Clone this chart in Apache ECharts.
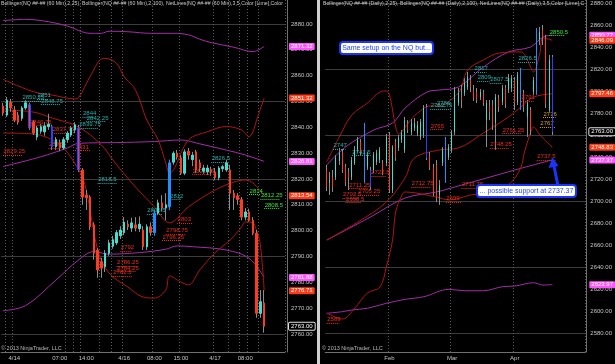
<!DOCTYPE html>
<html><head><meta charset="utf-8">
<script src="https://cdn.jsdelivr.net/npm/echarts@6/dist/echarts.min.js"></script>
<style>html,body{margin:0;padding:0;background:#000;}#c{width:615px;height:364px;}</style>
</head><body><div id="c"></div>
<script>
// ================= LEFT PANEL (60 Min) =================
const leftCatCount = 75;
const leftTickIdx  = [3, 15, 22, 32, 40, 47, 56, 64];
const leftTickText = ['4/14', '07:00', '14:00', '4/16', '08:00', '15:00', '4/17', '08:00'];
const leftVLines   = [1, 3, 17, 19, 21, 26, 29, 32, 40, 47, 56, 60, 63, 65, 68];
// [open, close, low, high]
const leftOHLC = [
 [2848.25,2845.5,2844.5,2849.5],[2844.75,2850.5,2844,2851.75],[2849.75,2847.5,2846,2851],[2846.75,2842.75,2842,2848.25],
 [2844.75,2842,2841,2846],[2843.5,2847.5,2842.5,2848.25],[2847.5,2849.5,2846.75,2850.5],[2848.75,2839.75,2839,2849.5],
 [2842,2837.75,2837,2842.75],[2836.25,2839.75,2835,2840.5],[2838.5,2840.25,2837.5,2841.25],[2838.25,2840.5,2836.75,2842],
 [2840.25,2841.25,2839,2845.25],[2840.25,2832.5,2831.25,2841],[2832.5,2835.25,2831.25,2836.25],[2834,2832,2830.75,2835.25],
 [2832,2835.25,2831.25,2836.25],[2835.25,2837.75,2834,2838.5],[2837,2839.75,2836.25,2840.5],[2839,2841,2837.75,2842],
 [2839.75,2823.5,2822.75,2841],[2823.5,2813,2810,2824.25],[2813.75,2812.75,2808,2815.75],[2813,2801.5,2800.25,2813.75],
 [2802.25,2791.25,2788.75,2803.25],[2792.5,2784.75,2781.75,2793.25],[2788,2785.5,2781.75,2789.5],[2786,2791.25,2784,2792.5],
 [2791.25,2795.25,2790.25,2796.5],[2794,2796.5,2793,2798],[2795.25,2799.25,2794.5,2800.25],[2798,2800.25,2796.75,2801.75],
 [2799.25,2803.25,2798.25,2805.25],[2802.5,2801.5,2800.25,2804],[2801,2803,2799.5,2805],[2802.25,2801,2799.75,2805.25],
 [2800.75,2802.5,2799.5,2805.5],[2800.25,2793.75,2792.5,2801.75],[2793.75,2801.5,2792.5,2802.5],[2801.5,2799.25,2798,2803.25],
 [2799.25,2806.75,2798,2808],[2806.75,2810.75,2806,2812],[2810.75,2808.75,2807.5,2813.75],[2808.75,2810,2804,2814.5],
 [2809.25,2826.25,2808,2827.5],[2826.5,2830,2825.5,2830.75],[2830,2828.5,2827.5,2831.25],[2828.25,2822.25,2821.5,2829.25],
 [2822.25,2830.5,2821.5,2831.5],[2830.75,2829.25,2827.5,2832],[2827.5,2829.25,2825,2830.5],[2830.5,2823.5,2822.25,2831.25],
 [2826.25,2824.25,2822.75,2827.5],[2823,2824.25,2822,2825.5],[2822.75,2824.25,2821.5,2825.5],[2823.5,2822.75,2821.25,2824.75],
 [2822.75,2820.5,2819.5,2824.25],[2820.5,2824.25,2819.5,2825],[2824,2824.75,2822.75,2825.5],[2823.5,2826.25,2822.75,2827.5],
 [2823.5,2814.5,2808,2825.5],[2814.5,2812.75,2808,2815.75],[2813.5,2812,2810,2814.5],[2812,2805.25,2804,2813],
 [2805.25,2807.25,2804,2808.75],[2807.25,2804,2803.5,2808.5],[2804,2799,2798.25,2805.25],[2799,2768,2766.25,2800.25],
 [2768,2772.5,2766.25,2777],[2772,2763,2760.5,2777]
];
const leftBlueUp   = [40, 44];
const leftBlueEdge = [7, 13, 20];
const leftBB25Upper = [[0,2858.6],[8,2853.8],[13,2852.5],[19,2851.0],[20,2851.5],[23,2859.6],[26,2866.5],[27,2866.7],[30,2864.8],[32,2859.6],[35,2854.5],[38,2842.8],[41,2835.1],[43,2826.2],[44,2822.3],[49,2835.1],[54,2838.3],[59,2840.3],[63,2839.0],[65,2836.4],[66,2838.2],[67,2842.8],[69,2851.3]];
const leftBB25Mid   = [[0,2846.7],[8,2845.9],[13,2843.6],[20,2840.1],[26,2833.2],[29,2827.4],[35,2816.9],[40,2809.2],[44,2803.0],[49,2809.2],[56,2815.7],[61,2818.8],[64,2819.6],[66,2818.5],[69,2813.5]];
const leftBB25Lower = [[0,2837.8],[8,2837.4],[15,2833.2],[20,2823.5],[22,2815.7],[25,2792.5],[28,2783.6],[33,2778.2],[37,2774.3],[40,2773.9],[43,2777.0],[44,2782.5],[47,2780.1],[49,2779.0],[52,2784.8],[56,2791.4],[60,2796.4],[63,2801.4],[64,2803.4],[66,2803.0],[67,2800.0],[68,2794.5],[69,2776.7]];
const leftBB100Upper = [[0,2881.3],[6,2881.8],[12,2880.9],[17,2879.2],[23,2876.4],[26,2876.4],[28,2877.2],[33,2877.0],[39,2876.4],[45,2876.4],[49,2875.8],[52,2874.1],[55,2872.8],[61,2871.0],[66,2869.3],[69,2871.3]];
const leftBB100Mid   = [[0,2824.8],[10,2828.6],[17,2832.0],[20,2833.8],[30,2834.1],[40,2834.5],[47,2835.1],[52,2833.6],[59,2831.2],[64,2829.3],[69,2826.8]];
const leftBB100Lower = [[0,2769.0],[6,2771.0],[14,2780.9],[20,2788.7],[24,2791.9],[28,2790.9],[36,2791.5],[43,2792.8],[46,2794.1],[50,2793.8],[59,2792.5],[65,2789.3],[69,2781.9]];
// NetLines: [text, colour key, start index, end index]
const leftNets = [
 ['2829.25','r',0,5],['2850.25','c',5,10],['2851','c',9,12],['2848.75','c',10,15],['2840.75','r',7,12],
 ['2837.75','r',13,18],['2832','r',12,15],['2831','r',19,23],['2844','c',21,24],['2842.25','c',22,27],
 ['2839.75','c',20,25],['2818.5','c',25,30],['2806.5','c',38,42],['2812','c',44,47],['2803','r',46,50],
 ['2798.75','r',43,48],['2796.25','r',42,47],['2792','r',31,34],['2786.25','r',30,35],['2784.25','r',30,35],
 ['2782.5','r',29,34],['2821.75','r',50,55],['2826.5','c',55,59],['2814','g',65,68],['2812.25','g',68,73],['2808.5','g',69,73]
];
const leftAxisBoxes = [[2871.32,'p'],[2851.32,'r'],[2826.81,'p'],[2813.54,'r'],[2781.88,'p'],[2776.71,'r'],[2763.00,'k']];

// ================= RIGHT PANEL (Daily) =================
const rightCatCount = 83;
const rightTickIdx  = [20, 40, 60];
const rightTickText = ['Feb', 'Mar', 'Apr'];
const rightVLines   = [20, 40, 60];
const rightOHLC = [
 [2728.25,2712.75,2709,2732.75],[2716.5,2719,2705.5,2726.5],[2721.75,2712.75,2708.25,2728.25],[2721.75,2739,2719,2741.75],
 [2736.5,2743.75,2732.75,2748.25],[2744.5,2728.25,2725.5,2747.25],[2731,2716.5,2713.5,2733.75],[2726.5,2721,2710,2730],
 [2721.75,2737.25,2719,2740],[2734.5,2746.5,2732.75,2750],[2746.5,2755.5,2743.75,2758.25],[2753.75,2744.5,2741.75,2756.5],
 [2757.25,2760,2716.5,2771],[2730.75,2741.75,2728.25,2744.5],[2728.25,2712.75,2710,2731],[2728.25,2741.75,2725.5,2744.5],
 [2735.5,2743.75,2732.75,2746.5],[2737.25,2746.5,2734.5,2749],[2734.5,2726.5,2723.5,2737.25],[2734.5,2758.25,2731.75,2761],
 [2760,2710,2707.25,2762.75],[2710,2749,2707.25,2750.75],[2753.75,2739,2736.5,2756.5],[2748.25,2757.25,2745.5,2760],
 [2755.5,2761.75,2752.75,2764.5],[2746.5,2773.5,2743.75,2776.5],[2770.75,2764.5,2761.75,2773.5],[2762.75,2770.75,2760,2774.5],
 [2766.5,2770.75,2763.75,2775.5],[2761.75,2769,2759,2772.75],[2758.25,2771.75,2755.5,2774.5],[2760,2784.5,2757.25,2787.25],
 [2785.5,2739,2737.25,2788.25],[2741.75,2730.75,2728.25,2744.5],[2730.75,2707.25,2704.5,2733.75],[2732.75,2702.75,2699,2737.25],
 [2705.5,2714.5,2696.5,2719],[2734.5,2746.5,2731.75,2749],[2741.75,2746.5,2716.5,2758.25],[2740,2749,2737.25,2751.75],
 [2746.5,2761.75,2743.75,2764.5],[2762.75,2801,2760,2803.75],[2789,2798.25,2786.5,2802.75],[2794.5,2791.75,2784.5,2805.5],
 [2798.25,2807.25,2795.5,2811.75],[2803.5,2812.75,2801,2817.25],[2810,2803.5,2799,2814.5],[2801,2793.5,2791,2805.5],
 [2799,2791.75,2789,2802.75],[2794.5,2799,2791.75,2801.75],[2798.25,2789,2786.5,2801],[2773.5,2789,2749,2791.75],
 [2787.25,2781,2773.5,2791.75],[2787.25,2769,2764.5,2791.75],[2771,2794.5,2746.5,2797.25],[2793.5,2785.5,2781,2796.5],
 [2790,2802.75,2787.25,2805.5],[2802.75,2789,2784.5,2805.5],[2801,2811.75,2798.25,2815.5],[2802.75,2811.75,2799,2814.5],
 [2810,2789,2782.75,2812.75],[2790,2814.5,2787.25,2817.25],[2796.5,2814.5,2782.75,2821],[2798.25,2785.5,2781,2801],
 [2776.5,2789,2758.25,2791.75],[2782.75,2764.5,2760,2785.5],[2799,2810,2796.5,2812.75],[2799,2853.5,2796.5,2857.25],
 [2846.5,2853.5,2841.75,2858.25],[2855.5,2848.25,2841.75,2860],[2848.25,2789,2784.5,2851],[2782.75,2828.25,2781,2832.75],
 [2831,2763,2760,2832.75]
];
const rightBlueUp   = [12, 38, 62, 67];
const rightBlueEdge = [14, 32, 72];
const rightBB25Upper = [[0,2735.5],[4,2758.2],[8,2778.2],[13,2789.1],[17,2799.1],[19,2800.0],[20,2796.4],[21,2782.7],[22,2767.3],[23,2760.9],[26,2770.9],[29,2780.0],[33,2786.4],[35,2786.4],[42,2798.2],[45,2819.1],[50,2828.2],[55,2834.5],[62,2835.5],[64,2828.2],[66,2817.3],[68,2834.5],[69,2848.2],[72,2846.1]];
const rightBB25Mid   = [[0,2664.5],[10,2681.0],[19,2699.0],[25,2721.0],[28,2739.1],[36,2746.4],[42,2748.2],[50,2761.8],[58,2776.4],[62,2785.5],[66,2794.5],[72,2797.5]];
const rightBB25Lower = [[0,2598.2],[5,2592.7],[9,2602.7],[13,2616.4],[17,2621.8],[19,2640.0],[21,2664.5],[22,2690.0],[24,2705.5],[25,2708.2],[35,2703.6],[39,2700.9],[46,2705.5],[50,2707.3],[56,2712.7],[59,2717.3],[62,2730.9],[63,2743.6],[65,2761.8],[66,2767.3],[68,2760.0],[72,2748.8]];
const rightBB100Upper = [[0,2732.7],[6,2749.1],[15,2764.5],[21,2770.9],[25,2784.5],[32,2799.1],[36,2800.9],[42,2803.6],[50,2821.8],[58,2835.5],[65,2840.0],[69,2849.1],[72,2850.8]];
const rightBB100Mid   = [[0,2664.5],[14,2685.5],[25,2702.7],[35,2708.2],[43,2714.5],[51,2720.9],[60,2728.2],[72,2737.4]];
const rightBB100Lower = [[0,2597.9],[5,2599.4],[8,2600.9],[13,2602.5],[19,2607.0],[25,2610.6],[31,2613.0],[39,2619.7],[44,2618.4],[50,2618.4],[56,2622.1],[60,2622.7],[66,2625.7],[69,2623.6],[72,2624.0]];
const rightNets = [
 ['2589','r',0,4],['2747','c',2,6],['2741.5','c',8,14],['2722.5','r',14,19],['2711.25','r',7,13],['2705.25','r',10,17],
 ['2702.5','r',5,10],['2698.5','r',6,11],['2712.75','r',27,33],['2786','c',35,38],['2783.75','c',33,40],['2765','r',33,37],
 ['2699','r',38,43],['2711.75','r',43,49],['2817','c',47,51],['2809','c',48,52],['2807.5','c',52,56],['2748.25','r',52,58],
 ['2761.25','r',56,62],['2826.5','c',61,67],['2791','r',62,66],['2776','o',69,73],['2767','o',68,73],['2737.5','r',67,73],
 ['2850.5','g',71,76]
];
const rightAxisBoxes = [[2850.77,'p'],[2846.09,'r'],[2797.46,'r'],[2763.00,'k'],[2748.83,'r'],[2737.37,'p'],[2623.97,'p']];

// ================= STYLE =================
const FONT = 'Liberation Sans';
const UP = '#40e0d0', DN = '#ff3b1f', BLUE = '#1e90ff', EDGE = '#2a40ff', WICK = '#8c8c8c';
const BB25 = '#b01414', BB100 = '#a32ca8';
const AXT = '#c4c4c4';
const NETCOL = {r:'#ee2a1a', c:'#20b2aa', g:'#2ee82e', o:'#d4a017'};
const BOX = {p:['#ff55ff','#ffffff',null], r:['#ff3a14','#ffffff',null], k:['#000000','#ffffff','#e0e0e0']};
const GRIDC = ['#3c3c3c', 'rgba(0,0,0,0)', 'rgba(0,0,0,0)'];

function cats(n, idx, txt){ const a = new Array(n).fill(''); idx.forEach((p,j)=>{a[p]=txt[j];}); return a; }
function bodyData(ohlc, blueUp, blueEdge){
  return ohlc.map((d,i)=>{
    const o=d[0], c=d[1];
    const item = {value:[o, c, Math.min(o,c), Math.max(o,c)]};
    if (blueUp.includes(i)) item.itemStyle = {color:BLUE,color0:BLUE,borderColor:BLUE,borderColor0:BLUE,borderColorDoji:BLUE};
    else if (blueEdge.includes(i)) item.itemStyle = {borderColor:EDGE,borderColor0:EDGE,borderColorDoji:EDGE};
    return item;
  });
}
function wickData(ohlc, blueUp){
  return ohlc.map((d,i)=> blueUp.includes(i)
    ? {value:d, itemStyle:{color:BLUE,color0:BLUE,borderColor:BLUE,borderColor0:BLUE,borderColorDoji:BLUE}} : d);
}
function netMarks(nets){
  return nets.map(n=>{
    const col = NETCOL[n[1]], v = parseFloat(n[0]);
    return [{coord:[n[2], v], lineStyle:{color:col, type:[1,1], width:1},
             label:{show:true, position:'insideStartTop', formatter:n[0], color:col, fontSize:6, fontFamily:FONT, distance:0.5}},
            {coord:[n[3], v]}];
  });
}
function boxMarks(boxes){
  return boxes.map(b=>{
    const s = BOX[b[1]];
    return {yAxis:b[0], lineStyle:{color:'rgba(0,0,0,0)', width:1},
      label:{show:true, position:'end', distance:4, formatter:b[0].toFixed(2), color:s[1], backgroundColor:s[0],
             borderColor:s[2]||s[0], borderWidth:s[2]?1:0, padding:[1,2,0,2], fontSize:6, fontFamily:FONT, borderRadius:1}};
  });
}
function lineS(data, col, xi){
  return {type:'line', xAxisIndex:xi, yAxisIndex:xi, data:data, symbol:'none', smooth:0.35,
          lineStyle:{color:col, width:1}, silent:true, z:3};
}
function xAx(gi, n, idx, txt, vl){
  return {type:'category', gridIndex:gi, data:cats(n, idx, txt), boundaryGap:true,
    axisLine:{show:true, lineStyle:{color:'#707070'}}, axisTick:{show:false},
    axisLabel:{interval:0, color:AXT, fontSize:6, fontFamily:FONT, margin:3},
    splitLine:{show:true, interval:(i)=>vl.includes(i), lineStyle:{color:'#5a5a5a', type:[1,2], width:1}}};
}
function yAx(gi, min, max, step, off){
  return {type:'value', gridIndex:gi, position:'right', offset:off, min:min, max:max,
    splitNumber:Math.round((max-min)/step), minInterval:step, maxInterval:step,
    axisLine:{show:true, lineStyle:{color:'#707070'}}, axisTick:{show:false},
    axisLabel:{color:AXT, fontSize:6, fontFamily:FONT, margin:4, showMinLabel:false, showMaxLabel:false,
               formatter:(v)=>v.toFixed(2)},
    splitLine:{show:true, showMinLine:false, showMaxLine:false, lineStyle:{color:GRIDC, width:1}}};
}
function candles(ohlc, blueUp, blueEdge, xi, bw, nets, boxes){
  return [
    {type:'candlestick', xAxisIndex:xi, yAxisIndex:xi, data:wickData(ohlc, blueUp), barWidth:1, silent:true, z:4,
     itemStyle:{color:WICK,color0:WICK,borderColor:WICK,borderColor0:WICK,borderColorDoji:WICK,borderWidth:1}},
    {type:'candlestick', xAxisIndex:xi, yAxisIndex:xi, data:bodyData(ohlc, blueUp, blueEdge), barWidth:bw, silent:true, z:5,
     itemStyle:{color:UP,color0:DN,borderColor:UP,borderColor0:DN,borderColorDoji:DN,borderWidth:1},
     markLine:{silent:true, symbol:['none','none'], animation:false, data:netMarks(nets)}},
    {type:'line', xAxisIndex:xi, yAxisIndex:xi, data:[[0, ohlc[0][1]]], symbol:'none', lineStyle:{width:0, opacity:0}, silent:true, z:8,
     markLine:{silent:true, symbol:['none','none'], animation:false, data:boxMarks(boxes)}}
  ];
}

const chart = echarts.init(document.getElementById('c'), null, {renderer:'canvas', width:615, height:364});
const option = {
  backgroundColor:'#000', animation:false,
  grid:[{left:1, top:0, width:284, height:352}, {left:325.17, top:0, width:262.83, height:352}],
  xAxis:[xAx(0, leftCatCount, leftTickIdx, leftTickText, leftVLines), xAx(1, rightCatCount, rightTickIdx, rightTickText, rightVLines)],
  yAxis:[yAx(0, 2753.03, 2889.29, 10, 2), yAx(1, 2562.73, 2882.73, 20, 1)],
  series:[
    lineS(leftBB100Upper, BB100, 0), lineS(leftBB100Mid, BB100, 0), lineS(leftBB100Lower, BB100, 0),
    lineS(leftBB25Upper, BB25, 0), lineS(leftBB25Mid, BB25, 0), lineS(leftBB25Lower, BB25, 0),
    lineS(rightBB100Upper, BB100, 1), lineS(rightBB100Mid, BB100, 1), lineS(rightBB100Lower, BB100, 1),
    lineS(rightBB25Upper, BB25, 1), lineS(rightBB25Mid, BB25, 1), lineS(rightBB25Lower, BB25, 1),
    ...candles(leftOHLC, leftBlueUp, leftBlueEdge, 0, 2, leftNets, leftAxisBoxes),
    ...candles(rightOHLC, rightBlueUp, rightBlueEdge, 1, 1, rightNets, rightAxisBoxes)
  ],
  graphic:[
    {type:'rect', shape:{x:317, y:0, width:3, height:364}, style:{fill:'#cfcfcf'}, z:10},
    {type:'text', x:1, y:1, z:10, style:{text:'Bollinger(NQ ##-## (60 Min),2,25), Bollinger(NQ ##-## (60 Min),2,100), NetLines(NQ ##-## (60 Min),3,5,Color [Lime],Color [Red])',
      fill:'#c8c8c8', fontSize:5.2, fontFamily:FONT, width:286, overflow:'truncate', ellipsis:''}},
    {type:'text', x:323, y:1, z:10, style:{text:'Bollinger(NQ ##-## (Daily),2,25), Bollinger(NQ ##-## (Daily),2,100), NetLines(NQ ##-## (Daily),3,5,Color [Lime],Color [Red])',
      fill:'#c8c8c8', fontSize:5.2, fontFamily:FONT, width:264, overflow:'truncate', ellipsis:''}},
    {type:'text', x:1, y:345, z:10, style:{text:'© 2013 NinjaTrader, LLC', fill:'#b8b8b8', fontSize:5.5, fontFamily:FONT}},
    {type:'text', x:322, y:345, z:10, style:{text:'© 2013 NinjaTrader, LLC', fill:'#b8b8b8', fontSize:5.5, fontFamily:FONT}},
    {type:'rect', z:20, shape:{x:340, y:42, width:93, height:12, r:3}, style:{fill:'#ffffff', stroke:'#1a34ff', lineWidth:2}},
    {type:'text', z:21, x:386.5, y:48, style:{text:'Same setup on the NQ but...', fill:'#2244ff', fontSize:7, fontFamily:FONT, align:'center', verticalAlign:'middle', textAlign:'center', textVerticalAlign:'middle'}},
    {type:'polyline', z:19, shape:{points:[[558,186],[554,166]]}, style:{stroke:'#1a34ff', lineWidth:3}},
    {type:'polygon', z:19, shape:{points:[[552.5,157.5],[548.5,168],[558.5,166]]}, style:{fill:'#1a34ff'}},
    {type:'rect', z:20, shape:{x:477, y:185, width:99, height:12, r:3}, style:{fill:'#ffffff', stroke:'#1a34ff', lineWidth:2}},
    {type:'text', z:21, x:526.5, y:191, style:{text:'... possible support at 2737.37', fill:'#2244ff', fontSize:7, fontFamily:FONT, align:'center', verticalAlign:'middle', textAlign:'center', textVerticalAlign:'middle'}}
  ]
};
chart.setOption(option);
</script>
</body></html>
